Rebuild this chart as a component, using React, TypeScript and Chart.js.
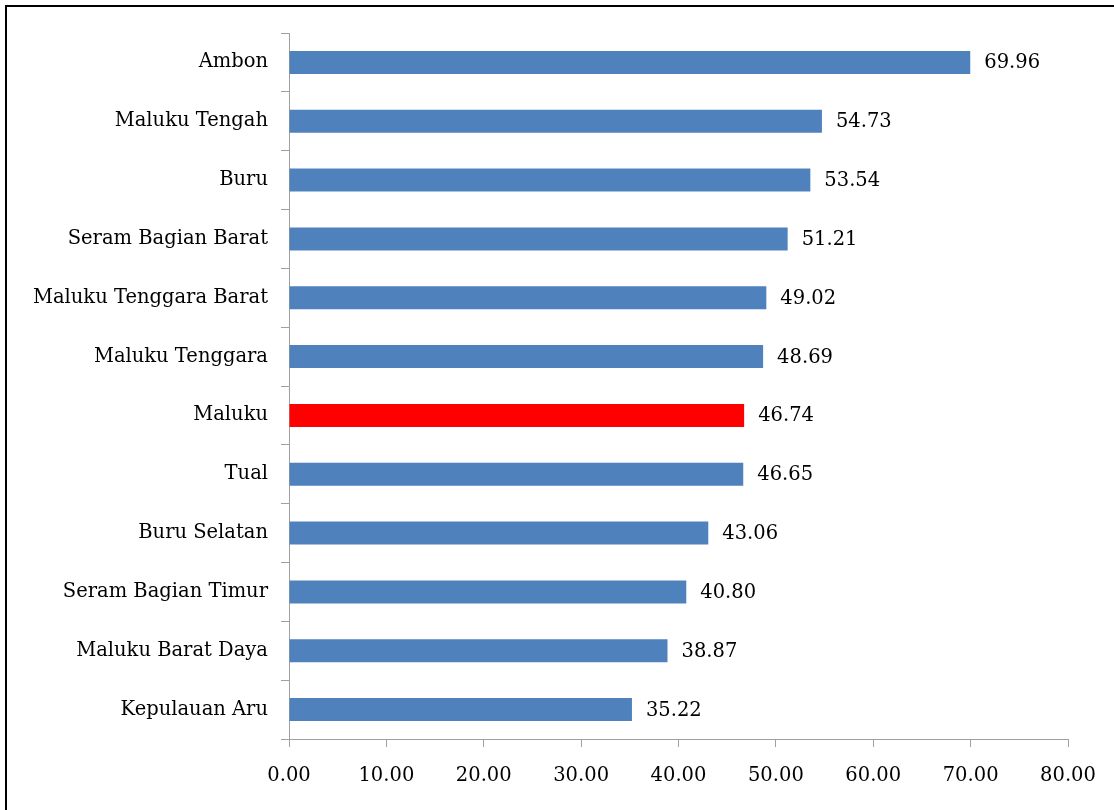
import React, { useEffect, useRef } from "react";
import { Chart, registerables } from "chart.js";

Chart.register(...registerables);

const categories = [
  "Ambon",
  "Maluku Tengah",
  "Buru",
  "Seram Bagian Barat",
  "Maluku Tenggara Barat",
  "Maluku Tenggara",
  "Maluku",
  "Tual",
  "Buru Selatan",
  "Seram Bagian Timur",
  "Maluku Barat Daya",
  "Kepulauan Aru",
];
const values = [69.96, 54.73, 53.54, 51.21, 49.02, 48.69, 46.74, 46.65, 43.06, 40.8, 38.87, 35.22];
const highlight = "Maluku";
const xMin = 0;
const xMax = 80;
const xStep = 10;

const FONT = "'DejaVu Serif', serif";
const FSIZE = 19.5;

export default function App() {
  const ref = useRef<HTMLCanvasElement>(null);
  useEffect(() => {
    if (!ref.current) return;
    const labelPlugin = {
      id: "valueLabels",
      afterDatasetsDraw(chart: any) {
        const ctx = chart.ctx;
        const meta = chart.getDatasetMeta(0);
        ctx.save();
        ctx.font = `${FSIZE}px ${FONT}`;
        ctx.fillStyle = "#000";
        ctx.textAlign = "left";
        ctx.textBaseline = "middle";
        meta.data.forEach((el: any, i: number) => {
          ctx.fillText(values[i].toFixed(2), el.x + 14, el.y + 1);
        });
        ctx.restore();
      },
    };
    const chart = new Chart(ref.current, {
      type: "bar",
      data: {
        labels: categories,
        datasets: [
          {
            data: values,
            backgroundColor: categories.map((c) => (c === highlight ? "#FF0000" : "#4F81BD")),
            borderWidth: 0,
            barPercentage: 0.39,
            categoryPercentage: 1,
          },
        ],
      },
      options: {
        indexAxis: "y",
        animation: false,
        responsive: false,
        maintainAspectRatio: false,
        layout: { padding: { top: 33, right: 46, left: 0, bottom: 0 } },
        plugins: { legend: { display: false }, tooltip: { enabled: false } },
        scales: {
          x: {
            min: xMin,
            max: xMax,
            ticks: {
              stepSize: xStep,
              color: "#000",
              font: { family: FONT, size: FSIZE },
              padding: 17,
              callback: (v: any) => Number(v).toFixed(2),
              maxRotation: 0,
            },
            grid: { drawOnChartArea: false, drawTicks: true, tickLength: 8, color: "#A0A0A0" },
            border: { color: "#A0A0A0", width: 1 },
            afterFit: (s: any) => {
              s.height = 71;
            },
          },
          y: {
            ticks: {
              color: "#000",
              font: { family: FONT, size: FSIZE },
              padding: 13,
            },
            grid: { drawOnChartArea: false, drawTicks: true, tickLength: 8, color: "#A0A0A0", offset: true },
            border: { color: "#A0A0A0", width: 1 },
            afterFit: (s: any) => {
              s.width = 289;
            },
          },
        },
      },
      plugins: [labelPlugin],
    });
    return () => chart.destroy();
  }, []);
  return (
    <div style={{ position: "fixed", left: 0, top: 0, width: 1114, height: 810, overflow: "hidden", background: "#fff" }}>
      <canvas ref={ref} width={1114} height={810} style={{ position: "absolute", left: 0, top: 0, width: 1114, height: 810 }} />
      <div
        style={{
          position: "absolute",
          left: 5,
          top: 5,
          width: 1200,
          height: 900,
          borderLeft: "2px solid #000",
          borderTop: "2px solid #000",
          pointerEvents: "none",
        }}
      />
    </div>
  );
}
